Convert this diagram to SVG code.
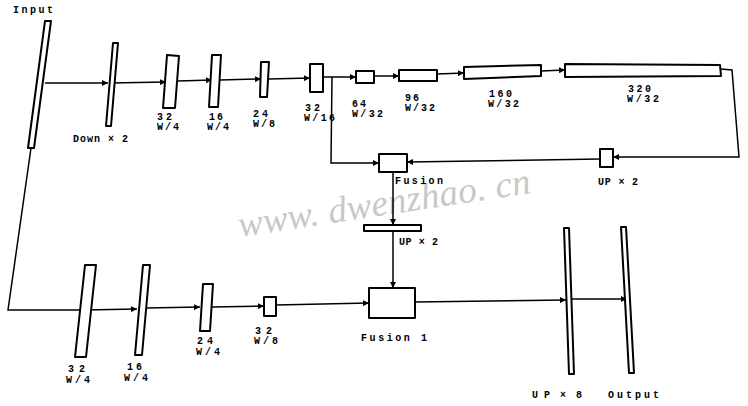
<svg xmlns="http://www.w3.org/2000/svg" width="748" height="406" viewBox="0 0 748 406">
<style>
.bx{fill:#fff;stroke:#000;stroke-width:2;stroke-linejoin:round}
.ln{fill:none;stroke:#000;stroke-width:1.5}
.ar{marker-end:url(#ah)}
.t{font-family:"Liberation Mono","DejaVu Sans Mono",monospace;font-weight:bold;font-size:10px;fill:#000}
.wm{font-family:"Liberation Serif","DejaVu Serif",serif;font-style:italic;font-size:37px;fill:#c8c8c8}
</style>
<defs>
<marker id="ah" markerUnits="userSpaceOnUse" markerWidth="7" markerHeight="6" refX="6" refY="3" orient="auto">
<path d="M0,0 L6,3 L0,6 Z" fill="#000"/>
</marker>
</defs>
<rect width="748" height="406" fill="#fff"/>
<text class="wm" x="240" y="237" transform="rotate(-8.6 240 237)" textLength="295">www. dwenzhao. cn</text>
<g id="connectors">
<path class="ln ar" d="M45,83 L108,83"/>
<path class="ln ar" d="M110,83 L166,82"/>
<path class="ln ar" d="M178,81 L212,80"/>
<path class="ln ar" d="M220,80 L261,79"/>
<path class="ln ar" d="M269,79 L310,78"/>
<path class="ln ar" d="M323,77 L356,77"/>
<path class="ln ar" d="M374,76 L399,76"/>
<path class="ln ar" d="M437,74 L464,73"/>
<path class="ln ar" d="M541,71 L565,70"/>
<path class="ln ar" d="M721,69 L732,70 L739,157 L613,157"/>
<path class="ln ar" d="M600,159 L407,162"/>
<path class="ln ar" d="M332,77 L331,163 L379,163"/>
<path class="ln ar" d="M393,172 L393,225"/>
<path class="ln ar" d="M393,231 L393,288"/>
<path class="ln" d="M31,148 L8,310 L84,310"/>
<path class="ln ar" d="M84,310 L137,309"/>
<path class="ln ar" d="M146,308 L200,307"/>
<path class="ln ar" d="M212,307 L264,306"/>
<path class="ln ar" d="M276,305 L369,303"/>
<path class="ln ar" d="M415,302 L566,300"/>
<path class="ln ar" d="M572,299 L627,299"/>
</g>
<g id="input">
<polygon class="bx" points="45,21 51,21 34,148 28,148"/>
<text class="t" x="13" y="13" font-size="9.5" textLength="40">Input</text>
</g>
<g id="down2">
<polygon class="bx" points="113,43 118,43 111,126 106,126"/>
<text class="t" x="73" y="142" textLength="55">Down × 2</text>
</g>
<g id="t32w4">
<polygon class="bx" points="167,55 179,56 175,108 163,108"/>
<text class="t" x="157" y="120" textLength="15">32</text>
<text class="t" x="157" y="130" textLength="22">W/4</text>
</g>
<g id="t16w4">
<polygon class="bx" points="212,55 221,55 218,107 209,107"/>
<text class="t" x="209" y="120" textLength="14">16</text>
<text class="t" x="207" y="130" textLength="22">W/4</text>
</g>
<g id="t24w8">
<polygon class="bx" points="261,62 269,62 267,97 260,97"/>
<text class="t" x="253" y="117" textLength="15">24</text>
<text class="t" x="253" y="127" textLength="22">W/8</text>
</g>
<g id="t32w16">
<rect class="bx" x="310" y="64" width="13" height="28"/>
<text class="t" x="305" y="111" textLength="15">32</text>
<text class="t" x="304" y="121" textLength="31">W/16</text>
</g>
<g id="t64">
<rect class="bx" x="356" y="71" width="18" height="12"/>
<text class="t" x="352" y="107" textLength="14">64</text>
<text class="t" x="352" y="117" textLength="31">W/32</text>
</g>
<g id="t96">
<rect class="bx" x="399" y="70" width="38" height="11"/>
<text class="t" x="405" y="101" textLength="14">96</text>
<text class="t" x="405" y="111" textLength="30">W/32</text>
</g>
<g id="t160">
<polygon class="bx" points="464,67 541,65 541,76 464,79"/>
<text class="t" x="489" y="97" textLength="23">160</text>
<text class="t" x="488" y="107" textLength="31">W/32</text>
</g>
<g id="t320">
<polygon class="bx" points="565,64 720,65 721,76 565,77"/>
<text class="t" x="628" y="92" textLength="23">320</text>
<text class="t" x="627" y="102" textLength="32">W/32</text>
</g>
<g id="up2a">
<rect class="bx" x="600" y="149" width="13" height="18"/>
<text class="t" x="598" y="185" textLength="40">UP × 2</text>
</g>
<g id="fusion">
<rect class="bx" x="379" y="154" width="28" height="18"/>
<text class="t" x="395" y="184" textLength="48">Fusion</text>
</g>
<g id="up2b">
<rect class="bx" x="364" y="225" width="57" height="6"/>
<text class="t" x="399" y="245" textLength="39">UP × 2</text>
</g>
<g id="b32w4">
<polygon class="bx" points="85,265 96,265 86,357 75,357"/>
<text class="t" x="68" y="372" textLength="17">32</text>
<text class="t" x="66" y="383" textLength="24">W/4</text>
</g>
<g id="b16w4">
<polygon class="bx" points="143,265 150,265 142,355 135,355"/>
<text class="t" x="127" y="370" textLength="15">16</text>
<text class="t" x="124" y="381" textLength="24">W/4</text>
</g>
<g id="b24w4">
<polygon class="bx" points="203,284 213,284 210,331 200,331"/>
<text class="t" x="197" y="344" textLength="16">24</text>
<text class="t" x="196" y="355" textLength="24">W/4</text>
</g>
<g id="b32w8">
<rect class="bx" x="264" y="297" width="12" height="19"/>
<text class="t" x="255" y="334" textLength="17">32</text>
<text class="t" x="254" y="344" textLength="24">W/8</text>
</g>
<g id="fusion1">
<rect class="bx" x="369" y="288" width="46" height="30"/>
<text class="t" x="361" y="341" textLength="66">Fusion 1</text>
</g>
<g id="up8">
<polygon class="bx" points="564,228 569,228 574,374 569,374"/>
<text class="t" x="532" y="398" textLength="18">UP</text>
<text class="t" x="560" y="398" textLength="22">×8</text>
</g>
<g id="output">
<polygon class="bx" points="621,227 626,227 634,373 629,373"/>
<text class="t" x="608" y="398" textLength="51">Output</text>
</g>
</svg>
